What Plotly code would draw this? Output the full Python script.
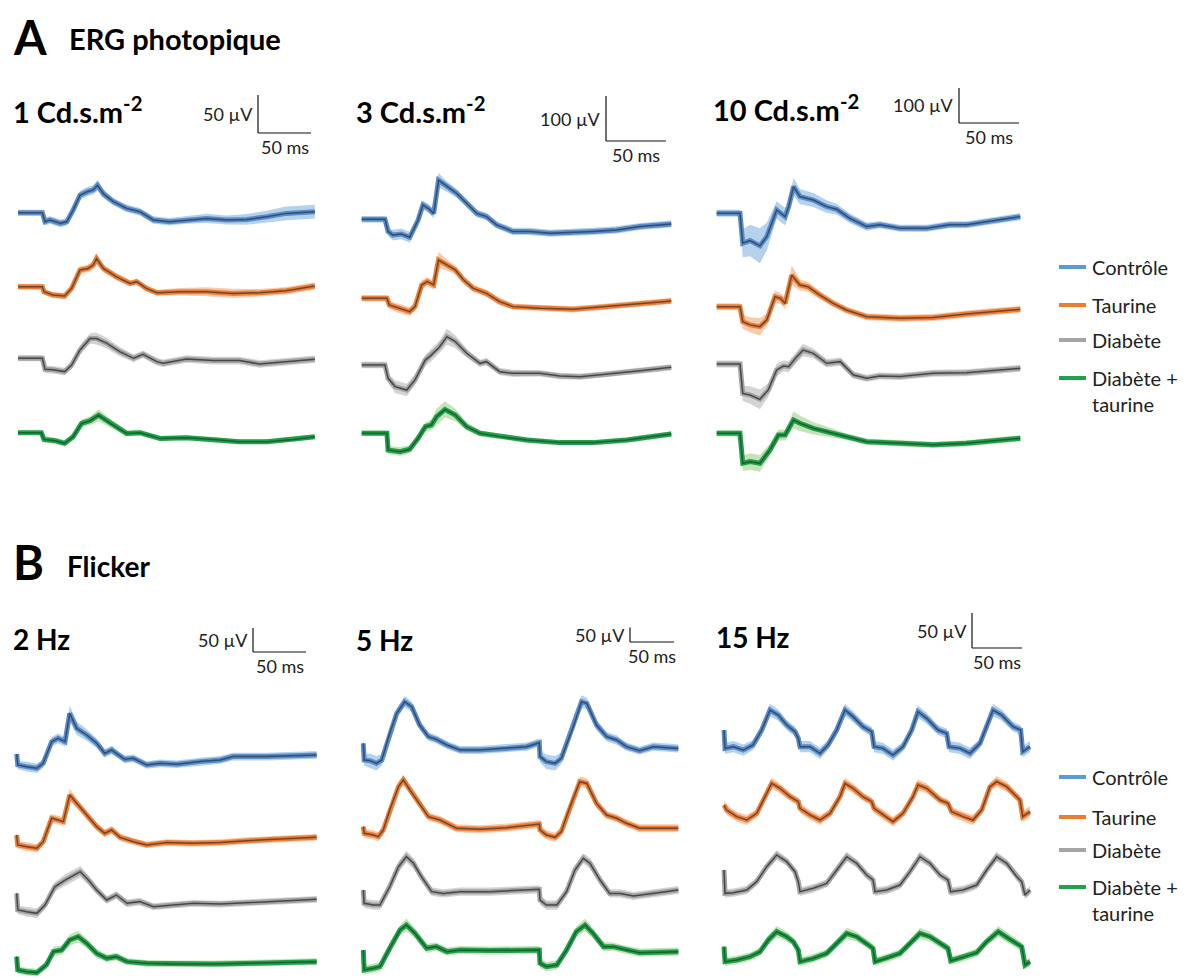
import plotly.graph_objects as go

W, H = 1194, 978
OFF = 8  # browser page margin compensation (px)

GROUPS = ["Contrôle", "Taurine", "Diabète", "Diabète +<br>taurine"]

# ================= DATA (time in ms, amplitude in µV, SEM in µV) =================
# ---- A : ERG photopique, 1 Cd.s.m-2 ----
A1_T_CTRL = [0, 23, 25.5, 30, 40, 46, 52, 58.5, 66, 71, 75, 80.5, 90, 102.5, 115, 127.7, 143, 159, 178, 197, 216, 234.6, 253, 280]
A1_V_CTRL = [0, 0, -11.8, -9.6, -14, -12, 3.5, 23, 28, 30, 36, 25, 14.5, 5.7, 1.3, -9.6, -12, -9.6, -7.5, -9.6, -8.8, -5.3, -0.9, 1.3]
A1_S_CTRL = [4, 4, 5, 5, 5, 5, 5, 6, 6, 6, 7, 6, 5, 5, 5, 5, 5, 5, 6, 6, 7, 8, 9, 9]
A1_T_TAU = [0, 23, 24.5, 33, 44, 50.6, 58.5, 66, 71, 74, 80.5, 93, 105.7, 112, 121, 131, 153, 178, 203, 228, 253, 280]
A1_V_TAU = [0, 0, -6.6, -11, -12.3, -2.2, 22, 24, 28.5, 37, 24, 13, 4.4, 6.6, -2.2, -8, -6.6, -6.6, -8.8, -8, -5.3, 0.9]
A1_S_TAU = [4, 4, 4, 4, 4, 4, 5, 5, 6, 7, 5, 5, 4, 4, 4, 4, 5, 6, 6, 5, 5, 5]
A1_T_DIA = [0, 23, 25.5, 33, 44, 50.6, 58.5, 68, 74, 83.6, 96, 109, 118, 131, 137, 159, 184, 209, 228, 253, 280]
A1_V_DIA = [0, 0, -14.5, -15, -17.5, -8.8, 11, 26, 26, 20, 8.8, 0, 5.3, -4.4, -6.6, -0.9, -3, -3, -7.5, -4.4, -1.3]
A1_S_DIA = [4, 4, 5, 5, 5, 5, 6, 7, 8, 7, 6, 5, 5, 5, 5, 5, 5, 5, 5, 5, 5]
A1_T_DT = [0, 22, 24.5, 35, 44, 52, 60, 68, 76, 87, 102.5, 115, 134, 159, 184, 209, 234.6, 260, 280]
A1_V_DT = [0, 0, -8.8, -10.5, -14, -5.3, 12.3, 15.8, 23, 12.3, -0.9, 0, -7.5, -6.6, -8.8, -11.8, -11.8, -8.8, -5.3]
A1_S_DT = [3, 3, 4, 4, 4, 4, 5, 6, 8, 6, 4, 4, 3, 3, 3, 3, 3, 3, 3]

# ---- A : 3 Cd.s.m-2 ----
A2_T_CTRL = [0, 19.4, 22, 26, 33, 40, 47, 51, 55.6, 60, 64, 71, 79, 87.5, 96, 104, 112.5, 126, 140, 157, 176, 193, 212.5, 232, 258]
A2_V_CTRL = [0, 0, -27, -35, -32.6, -40, -1.5, 32, 24, 13, 87, 72.6, 58, 35.5, 13, 6, -12.6, -27, -27, -31, -29.6, -27, -23.7, -16, -10.4]
A2_S_CTRL = [7, 7, 9, 12, 12, 12, 9, 10, 10, 10, 16, 12, 10, 9, 9, 8, 8, 8, 8, 8, 8, 8, 8, 8, 8]
A2_T_TAU = [0, 21, 23, 30.5, 40, 44.4, 50, 54.7, 60, 64, 71, 78, 85, 93, 104, 115, 126, 148.6, 176, 204, 232, 258]
A2_V_TAU = [0, 0, -14.8, -22, -29.6, -18.5, 29.6, 37, 29.6, 85, 74, 63, 40.7, 22, 11, -7.4, -18.5, -22, -24.4, -18.5, -12.6, -5.9]
A2_S_TAU = [7, 7, 9, 10, 10, 9, 10, 10, 10, 18, 12, 10, 9, 8, 8, 8, 7, 7, 7, 7, 7, 7]
A2_T_DIA = [0, 19.4, 22, 27.8, 37.5, 44.4, 53, 58, 65, 71, 78, 87.5, 98.6, 104, 115, 126, 148.6, 165, 182, 204, 232, 258]
A2_V_DIA = [0, 0, -29.6, -48, -55.6, -33, 11, 22, 40.7, 63, 52, 26, 3.7, 7.4, -14.8, -18.5, -18.5, -24.4, -26, -20.7, -12.6, -5.2]
A2_S_DIA = [7, 7, 10, 14, 14, 12, 12, 14, 14, 18, 14, 10, 8, 8, 8, 8, 7, 7, 7, 7, 7, 7]
A2_T_DT = [0, 21, 22, 32, 40, 47, 53, 58, 62.5, 69.4, 78, 87.5, 98.6, 115, 137.5, 165, 193, 221, 258]
A2_V_DT = [0, 0, -37, -40.7, -35.5, -11, 14.8, 18.5, 37, 53, 40.7, 14.8, 0, -7.4, -14.8, -20.7, -20.7, -14.8, -1.5]
A2_S_DT = [6, 6, 9, 10, 9, 9, 10, 12, 18, 18, 14, 9, 7, 6, 6, 6, 6, 6, 6]

# ---- A : 10 Cd.s.m-2 ----
A3_T_CTRL = [0, 19.4, 21.7, 27.8, 36, 41.7, 50, 57, 60, 64, 69.4, 80.5, 91.7, 100, 111, 125, 136, 153, 175, 194, 208, 225, 253]
A3_V_CTRL = [0, 0, -85.7, -78, -93, -66.7, 9.5, -9.5, 19, 76, 47.6, 38, 19, 11.4, -14.3, -38, -33, -43, -43, -33, -33, -23.8, -9.5]
A3_S_CTRL = [10, 10, 40, 45, 50, 40, 25, 25, 22, 25, 22, 20, 18, 15, 14, 12, 10, 10, 10, 10, 10, 10, 10]
A3_T_TAU = [0, 19.4, 21.7, 27.8, 36, 41.7, 48.6, 53, 57, 62.5, 69.4, 76, 86, 97, 108, 125, 153, 180.5, 208, 253]
A3_V_TAU = [0, 0, -43, -52, -57, -38, 28.6, 24, 9.5, 90, 62, 57, 33, 9.5, -9.5, -28.6, -33, -30.5, -21, -7.6]
A3_S_TAU = [10, 10, 20, 22, 25, 18, 18, 16, 16, 28, 16, 14, 12, 11, 10, 10, 10, 10, 10, 10]
A3_T_DIA = [0, 19.4, 21.7, 27.8, 36, 43, 50, 55.6, 60, 66.7, 72, 80.5, 91.7, 103, 114, 125, 136, 153, 180.5, 208, 253]
A3_V_DIA = [0, 0, -84, -88.6, -101, -74, -17, -5.7, -7.6, 21, 40, 30.5, 2, 6.7, -31.4, -41, -34, -36, -26.7, -24.8, -12.4]
A3_S_DIA = [10, 10, 22, 25, 28, 20, 18, 16, 16, 16, 18, 14, 12, 12, 11, 10, 10, 10, 10, 10, 10]
A3_T_DT = [0, 19.4, 21.7, 27.8, 36, 44.4, 51.4, 57, 64, 69.4, 80.5, 97, 108, 125, 153, 180.5, 208, 253]
A3_V_DT = [0, 0, -85.7, -81, -85.7, -47.6, -4.8, -4.8, 38, 28.6, 14.3, 0, -9.5, -24, -28.6, -33, -28.6, -14.3]
A3_S_DT = [9, 9, 22, 24, 24, 18, 16, 16, 24, 22, 18, 12, 10, 9, 9, 9, 9, 9]

# ---- B : Flicker 2 Hz ----
B1_T_CTRL = [0, 1, 9.4, 19, 25, 33, 39, 45.6, 50, 56.6, 66, 75.5, 83, 89.6, 96, 102, 110, 122.6, 135, 151, 173, 192, 204, 236, 283]
B1_V_CTRL = [19.4, -3.5, -7, -10.4, 0, 45, 52, 45, 104, 73, 59, 41.7, 20.8, 27.8, 17.4, 8.3, 10.4, -3.5, 0, -2, 3.5, 7, 14, 14, 17.4]
B1_S_CTRL = [8, 9, 10, 10, 9, 10, 10, 10, 16, 14, 12, 10, 9, 9, 8, 8, 8, 8, 8, 8, 8, 8, 8, 8, 8]
B1_T_TAU = [0, 1, 9.4, 19, 25, 33, 39, 44, 50, 56.6, 66, 75.5, 83, 89.6, 97.5, 110, 122.6, 141.5, 166.7, 192, 217, 242, 283]
B1_V_TAU = [7, -13.9, -17.4, -20.8, -7, 41.7, 38, 34.7, 90, 73, 48.6, 24.3, 10.4, 17.4, 2, -7, -13.9, -9, -10.4, -9, -4.9, -2, 2]
B1_S_TAU = [8, 8, 9, 9, 8, 9, 9, 9, 14, 10, 9, 8, 8, 8, 8, 7, 7, 7, 7, 7, 7, 7, 7]
B1_T_DIA = [0, 1, 9.4, 19, 26.7, 36, 45.6, 52, 60, 67.6, 75.5, 85, 94, 104, 116, 129, 148, 166.7, 192, 223, 283]
B1_V_DIA = [24.3, -10.4, -13.9, -17.4, 0, 38, 52, 59, 69.4, 52, 31, 10.4, 20.8, 3.5, 7, -3.5, 0, 3.5, 2, 5, 11.8]
B1_S_DIA = [8, 9, 10, 10, 9, 10, 12, 12, 12, 10, 9, 8, 8, 8, 8, 7, 7, 7, 7, 7, 7]
B1_T_DT = [0, 1, 9.4, 19, 28, 34.6, 42.5, 50, 58, 66, 75.5, 85, 94, 104, 122.6, 148, 185.5, 223, 283]
B1_V_DT = [24.3, -3.5, -7, -9, 7, 34.7, 38, 59, 66, 52, 31, 20.8, 24.3, 13.9, 10.4, 9, 9, 10.4, 13.9]
B1_S_DT = [8, 8, 8, 8, 8, 10, 10, 12, 12, 10, 9, 8, 8, 7, 7, 7, 7, 7, 7]

# ---- B : Flicker 5 Hz ----
B2_T_CTRL = [0, 1, 7.6, 15, 21, 30, 38, 47, 55, 64, 74, 83, 95, 110, 132.6, 163, 185.6, 200, 200.8, 208, 218, 225, 238.6, 248, 254, 265, 276.5, 288, 299, 314, 329.5, 358]
B2_V_CTRL = [57.5, 0, -2.3, -11.5, 0, 92, 161, 201, 184, 120.7, 80.5, 71, 51.7, 34.5, 34.5, 40, 46, 59.8, 11.5, -5.7, -11.5, 5.7, 115, 201, 195, 120.7, 80.5, 69, 46, 32, 46, 40]
B2_S_CTRL = [20, 20, 25, 25, 20, 16, 16, 20, 18, 16, 14, 14, 14, 14, 14, 14, 14, 14, 20, 25, 25, 20, 16, 22, 20, 18, 16, 16, 14, 14, 14, 14]
B2_T_TAU = [0, 1, 11.4, 17, 22.7, 30, 40, 45.5, 53, 64, 74, 87, 106, 132.6, 163, 200, 200.8, 208, 218, 225, 235, 246, 254, 265, 276.5, 288, 299, 314, 358]
B2_V_TAU = [23, 0, -5.7, -11.5, 11.5, 80.5, 161, 184, 149, 103, 57.5, 46, 17.2, 13.8, 19.5, 32, 11.5, -5.7, -13.8, 5.7, 92, 178, 172, 103, 63, 51.7, 34.5, 17.2, 17.2]
B2_S_TAU = [16, 16, 16, 16, 16, 16, 16, 18, 16, 16, 14, 14, 14, 14, 14, 14, 16, 16, 16, 16, 16, 18, 18, 16, 14, 14, 14, 14, 14]
B2_T_DIA = [0, 1, 11.4, 19, 30, 40, 49, 57, 66, 77.7, 91, 110, 144, 200, 200.8, 208, 220, 231, 240.5, 250, 257.6, 269, 280, 291.7, 307, 358]
B2_V_DIA = [51.7, 5.7, 0, 0, 63, 132, 166.7, 143.7, 97.7, 46, 40, 46, 46, 54, 17.2, 0, 0, 46, 120.7, 161, 143.7, 86, 40, 40, 31, 51.7]
B2_S_DIA = [16, 16, 16, 16, 16, 18, 20, 18, 16, 14, 14, 14, 14, 14, 16, 16, 16, 16, 16, 18, 18, 16, 14, 14, 14, 14]
B2_T_DT = [0, 1, 11.4, 19, 30, 41.7, 49, 58.7, 72, 83, 95, 110, 144, 200, 200.8, 208, 220, 231, 242, 252, 261, 273, 284, 295.5, 314, 358]
B2_V_DT = [63, -5.7, 0, 5.7, 69, 132, 149.4, 120.7, 69, 74.7, 57.5, 63, 61, 63, 17.2, 5.7, 11.5, 63, 126.4, 149.4, 120.7, 74.7, 74.7, 65.5, 54, 57.5]
B2_S_DT = [16, 16, 16, 16, 16, 18, 22, 18, 16, 14, 14, 14, 14, 14, 16, 16, 16, 16, 18, 22, 18, 16, 14, 14, 14, 14]

# ---- B : Flicker 15 Hz ----
B3_T_CTRL = [0, 1, 9.3, 19.3, 29, 37.7, 46, 54.3, 62.7, 71, 74.3, 76, 86, 96, 104, 112.7, 121, 129, 139, 147.7,
             150, 159, 169, 179, 187.7, 194, 202.7, 214, 222.7, 225, 236, 246, 256, 262.7, 269, 277.7, 289, 296.7, 298.7, 306]
B3_V_CTRL = [23.8, -2.4, 0, -4.8, 2.4, 23.8, 52.4, 45.2, 31, 21.4, 11.9, 0, 0, -9.5, 2.4, 23.8, 52.4, 42.9, 28.6, 21.4,
             0, -2.4, -11.9, 0, 23.8, 50, 40.5, 23.8, 19, 0, -2.4, -9.5, 4.8, 28.6, 52.4, 45.2, 28.6, 23.8, -7.1, 0]
B3_S_CTRL = [8, 8, 8, 8, 7, 7, 9, 8, 7, 7, 8, 8, 8, 8, 7, 7, 9, 8, 7, 7,
             8, 8, 8, 7, 7, 9, 8, 7, 7, 8, 8, 8, 7, 7, 9, 8, 7, 7, 8, 8]
B3_T_TAU = [0, 2.7, 12.7, 22.7, 32.7, 41, 47.7, 56, 66, 74.3, 76, 86, 96, 106, 116, 121, 129, 139, 147.7,
            150, 159, 169, 179, 189, 194, 202.7, 216, 224, 227.7, 239, 249, 257.7, 266, 272.7, 282.7, 296, 298.7, 306]
B3_V_TAU = [7.1, 0, -9.5, -14.3, -4.8, 19, 38, 31, 19, 11.9, 2.4, -7.1, -14.3, -4.8, 19, 38, 31, 19, 11.9,
            2.4, -7.1, -16.7, -4.8, 19, 35.7, 31, 14.3, 9.5, -2.4, -9.5, -14.3, 0, 33.3, 40.5, 33.3, 14.3, -9.5, -2.4]
B3_S_TAU = [7, 7, 7, 7, 6, 6, 8, 7, 6, 6, 7, 7, 7, 6, 6, 8, 7, 6, 6,
            7, 7, 7, 6, 6, 8, 7, 6, 6, 7, 7, 7, 6, 6, 8, 7, 6, 8, 8]
B3_T_DIA = [0, 1, 9.3, 22.7, 32.7, 42.7, 52.7, 62.7, 71, 74.3, 76, 89.3, 102.7, 112.7, 122.7, 132.7, 142.7, 149,
            151, 162.7, 176, 186, 196, 206, 216, 224, 226.7, 239, 252.7, 262.7, 272.7, 282.7, 292.7, 297.7, 301, 306]
B3_V_DIA = [28.6, -4.8, -3.8, 0, 11.9, 33.3, 50, 40.5, 26.2, 11.9, -2.4, 2.4, 9.5, 28.6, 47.6, 38, 21.4, 14.3,
            -2.4, 0, 7.1, 26.2, 47.6, 38, 21.4, 14.3, -2.4, 0, 7.1, 28.6, 47.6, 38, 19, 11.9, -7.1, 0]
B3_S_DIA = [6, 6, 6, 6, 6, 6, 7, 6, 6, 6, 6, 6, 6, 6, 7, 6, 6, 6,
            6, 6, 6, 6, 7, 6, 6, 6, 6, 6, 6, 6, 7, 6, 6, 6, 6, 6]
B3_T_DT = [0, 1, 12.7, 26, 36, 44.3, 52.7, 62.7, 69.3, 74.3, 76, 89.3, 102.7, 112.7, 122.7, 132.7, 142.7, 149,
           151, 162.7, 176, 186, 196, 206, 216, 224, 226.7, 239, 252.7, 262.7, 274.3, 284.3, 294.3, 297.7, 301, 306]
B3_V_DT = [19, -2.4, 0, 4.8, 11.9, 28.6, 40.5, 33.3, 26.2, 14.3, -2.4, 2.4, 9.5, 23.8, 38, 33.3, 23.8, 16.7,
           -2.4, 2.4, 9.5, 23.8, 38, 33.3, 23.8, 16.7, -1, 3.8, 10.5, 26.2, 40.5, 31, 21.4, 19, -7.1, -2.4]
B3_S_DT = [6, 6, 6, 6, 6, 7, 8, 7, 6, 6, 6, 6, 6, 6, 8, 7, 6, 6,
           6, 6, 6, 6, 8, 7, 6, 6, 6, 6, 6, 6, 8, 7, 6, 6, 6, 6]

SCALE_UV = {"A1": 50, "A2": 100, "A3": 100, "B1": 50, "B2": 50, "B3": 50}
SCALE_MS = 50

# ================= STYLE / LAYOUT =================
MAIN = ["#5b8cc6", "#e97f3a", "#a3a3a3", "#21a04b"]
BAND = ["rgba(91,155,213,0.45)", "rgba(237,125,49,0.40)", "rgba(160,160,160,0.45)", "rgba(130,190,100,0.45)"]
CORE = ["#2f4d75", "#764424", "#474747", "#17622f"]
LEGEND_COL = ["#5b9bd5", "#ed7d31", "#a5a5a5", "#1fa34a"]

# pixel geometry of each panel on the page
GEOM = {
    "A1": dict(x0=18, bases=[212.7, 286.7, 358.3, 432.7], kx=1.06, ky=0.76, box=(8, 335, 80, 480), sb=(258, 133)),
    "A2": dict(x0=361.7, bases=[219.3, 298.3, 365, 433.3], kx=1.2, ky=0.45, box=(345, 700, 80, 480), sb=(606, 141)),
    "A3": dict(x0=716.7, bases=[213.3, 306.7, 364, 433.3], kx=1.2, ky=0.35, box=(705, 1040, 75, 500), sb=(959, 123)),
    "B1": dict(x0=16.7, bases=[763.3, 838.3, 905, 968.3], kx=1.06, ky=0.48, box=(8, 335, 615, 986), sb=(253, 652)),
    "B2": dict(x0=363.3, bases=[760, 833.3, 905, 968.3], kx=0.88, ky=0.29, box=(345, 700, 605, 986), sb=(630, 642)),
    "B3": dict(x0=724, bases=[746.7, 810, 890, 960], kx=1.0, ky=0.7, box=(705, 1040, 605, 986), sb=(972, 648)),
}

DATA = {
    "A1": [(A1_T_CTRL, A1_V_CTRL, A1_S_CTRL), (A1_T_TAU, A1_V_TAU, A1_S_TAU), (A1_T_DIA, A1_V_DIA, A1_S_DIA), (A1_T_DT, A1_V_DT, A1_S_DT)],
    "A2": [(A2_T_CTRL, A2_V_CTRL, A2_S_CTRL), (A2_T_TAU, A2_V_TAU, A2_S_TAU), (A2_T_DIA, A2_V_DIA, A2_S_DIA), (A2_T_DT, A2_V_DT, A2_S_DT)],
    "A3": [(A3_T_CTRL, A3_V_CTRL, A3_S_CTRL), (A3_T_TAU, A3_V_TAU, A3_S_TAU), (A3_T_DIA, A3_V_DIA, A3_S_DIA), (A3_T_DT, A3_V_DT, A3_S_DT)],
    "B1": [(B1_T_CTRL, B1_V_CTRL, B1_S_CTRL), (B1_T_TAU, B1_V_TAU, B1_S_TAU), (B1_T_DIA, B1_V_DIA, B1_S_DIA), (B1_T_DT, B1_V_DT, B1_S_DT)],
    "B2": [(B2_T_CTRL, B2_V_CTRL, B2_S_CTRL), (B2_T_TAU, B2_V_TAU, B2_S_TAU), (B2_T_DIA, B2_V_DIA, B2_S_DIA), (B2_T_DT, B2_V_DT, B2_S_DT)],
    "B3": [(B3_T_CTRL, B3_V_CTRL, B3_S_CTRL), (B3_T_TAU, B3_V_TAU, B3_S_TAU), (B3_T_DIA, B3_V_DIA, B3_S_DIA), (B3_T_DT, B3_V_DT, B3_S_DT)],
}

FONT = "Lato"
fig = go.Figure()
layout_axes = {}
shapes = []
annotations = []

for i, key in enumerate(["A1", "A2", "A3", "B1", "B2", "B3"]):
    g = GEOM[key]
    n = i + 1
    xa = "x" if n == 1 else f"x{n}"
    ya = "y" if n == 1 else f"y{n}"
    L, R, T, B = g["box"]
    y0 = g["bases"][0]
    layout_axes["xaxis" if n == 1 else f"xaxis{n}"] = dict(
        domain=[(L - OFF) / W, (R - OFF) / W], range=[(L - g["x0"]) / g["kx"], (R - g["x0"]) / g["kx"]],
        visible=False, anchor=ya, fixedrange=True)
    layout_axes["yaxis" if n == 1 else f"yaxis{n}"] = dict(
        domain=[max(0.0, 1 - (B - OFF) / H), 1 - (T - OFF) / H], range=[(y0 - B) / g["ky"], (y0 - T) / g["ky"]],
        visible=False, anchor=xa, fixedrange=True)

    for k, (t, v, s) in enumerate(DATA[key]):
        assert len(t) == len(v) == len(s), (key, k, len(t), len(v), len(s))
        off = (y0 - g["bases"][k]) / g["ky"]
        yv = [a + off for a in v]
        up = [a + b for a, b in zip(yv, s)]
        lo = [a - b for a, b in zip(yv, s)]
        fig.add_trace(go.Scatter(x=list(t) + list(t)[::-1], y=up + lo[::-1], fill="toself",
                                 fillcolor=BAND[k], line=dict(width=0), mode="lines",
                                 hoverinfo="skip", showlegend=False, xaxis=xa, yaxis=ya))
        fig.add_trace(go.Scatter(x=t, y=yv, mode="lines", line=dict(color=MAIN[k], width=5),
                                 showlegend=False, xaxis=xa, yaxis=ya, name=GROUPS[k]))
        fig.add_trace(go.Scatter(x=t, y=yv, mode="lines", line=dict(color=CORE[k], width=1.5),
                                 showlegend=False, xaxis=xa, yaxis=ya, hoverinfo="skip"))

    # scale bars in data units
    sx, sy = g["sb"]
    tc = (sx - g["x0"]) / g["kx"]
    vc = (y0 - sy) / g["ky"]
    amp = SCALE_UV[key]
    shapes.append(dict(type="line", xref=xa, yref=ya, x0=tc, x1=tc, y0=vc, y1=vc + amp,
                       line=dict(color="#111", width=1.2)))
    shapes.append(dict(type="line", xref=xa, yref=ya, x0=tc, x1=tc + SCALE_MS, y0=vc, y1=vc,
                       line=dict(color="#111", width=1.2)))
    annotations.append(dict(text=f"{amp} µV", xref=xa, yref=ya, x=tc, y=vc + amp / 2, xanchor="right",
                            yanchor="middle", xshift=-3, showarrow=False,
                            font=dict(family=FONT, size=18, color="#222")))
    annotations.append(dict(text=f"{SCALE_MS} ms", xref=xa, yref=ya, x=tc + SCALE_MS / 2, y=vc,
                            xanchor="center", yanchor="top", yshift=-1, showarrow=False,
                            font=dict(family=FONT, size=18, color="#222")))

def ptext(txt, px, py, size, bold=True, anchor="left", color="#000", vanchor="middle"):
    yy = 1 - (py - OFF) / H
    annotations.append(dict(text=f"<b>{txt}</b>" if bold else txt, xref="paper", yref="paper",
                            x=(px - OFF) / W, y=min(1.0, yy), xanchor=anchor, yanchor=vanchor,
                            showarrow=False, borderpad=0, font=dict(family=FONT, size=size, color=color)))

ptext("A", 12, OFF, 47, vanchor="top")
ptext("ERG photopique", 68, 38, 29)
ptext("1 Cd.s.m<sup>-2</sup>", 12, 110, 29)
ptext("3 Cd.s.m<sup>-2</sup>", 355, 110, 29)
ptext("10 Cd.s.m<sup>-2</sup>", 712, 108, 29)
ptext("B", 12, 562, 47)
ptext("Flicker", 66, 566, 28)
ptext("2 Hz", 12, 639, 28)
ptext("5 Hz", 355, 640, 28)
ptext("15 Hz", 715, 637, 28)

LEG_Y = {"A": [267, 305, 340, 378], "B": [777, 817, 850, 887]}
for row in ["A", "B"]:
    for k, yy in enumerate(LEG_Y[row]):
        shapes.append(dict(type="line", xref="paper", yref="paper", x0=(1059 - OFF) / W, x1=(1086 - OFF) / W,
                           y0=1 - (yy - OFF) / H, y1=1 - (yy - OFF) / H, line=dict(color=LEGEND_COL[k], width=4)))
        lines = GROUPS[k].split("<br>")
        for j, ln in enumerate(lines):
            ptext(ln, 1091, yy + j * 26, 20, bold=False, color="#222")

fig.update_layout(width=W, height=H, margin=dict(l=0, r=0, t=0, b=0),
                  paper_bgcolor="white", plot_bgcolor="white", showlegend=False,
                  shapes=shapes, annotations=annotations, **layout_axes)
fig.write_html("out.html")
